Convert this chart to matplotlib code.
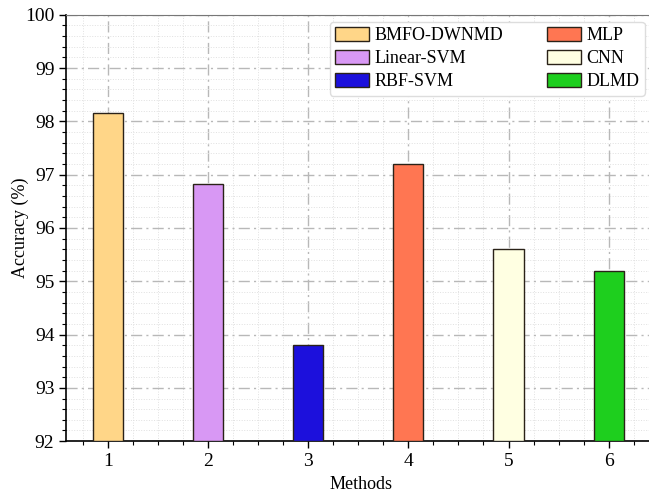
import matplotlib
matplotlib.use("Agg")
import matplotlib.pyplot as plt
from matplotlib.ticker import MultipleLocator

METHODS = ["BMFO-DWNMD", "Linear-SVM", "RBF-SVM", "MLP", "CNN", "DLMD"]
POSITIONS = [1, 2, 3, 4, 5, 6]
ACCURACY = [98.15, 96.83, 93.8, 97.2, 95.6, 95.2]
COLORS = ["#FFD688", "#D898F4", "#1C10DC", "#FF7652", "#FFFFE2", "#1ECF1E"]

plt.rcParams["font.family"] = ["Liberation Serif", "DejaVu Serif"]

fig = plt.figure(figsize=(6.49, 4.94), dpi=100)
ax = fig.add_axes([0.102, 0.107, 0.91, 0.863])

for pos, value, color, name in zip(POSITIONS, ACCURACY, COLORS, METHODS):
    ax.bar(pos, value - 92, bottom=92, width=0.3, color=color,
           edgecolor="#2a2218", linewidth=1.0, label=name, zorder=3)

ax.set_xlim(0.585, 6.48)
ax.set_ylim(92, 100)
ax.set_xticks(POSITIONS)
ax.xaxis.set_minor_locator(MultipleLocator(0.25))
ax.yaxis.set_major_locator(MultipleLocator(1))
ax.yaxis.set_minor_locator(MultipleLocator(0.2))

ax.grid(True, which="major", linestyle=(0, (8, 3, 1.5, 3)), color="#b8b8b8",
        linewidth=1.0, zorder=0)
ax.grid(True, which="minor", linestyle=":", color="#e0e0e0", linewidth=0.7, zorder=0)

ax.tick_params(which="major", direction="out", length=5, width=1.0, labelsize=14)
ax.tick_params(which="minor", direction="out", length=3, width=0.8)
ax.spines["top"].set_color("#777777")
ax.spines["left"].set_linewidth(1.2)
ax.spines["bottom"].set_linewidth(1.2)

ax.set_xlabel("Methods", fontsize=13, labelpad=4)
ax.set_ylabel("Accuracy (%)", fontsize=13, labelpad=-3)

ax.legend(ncol=2, loc="upper right", fontsize=13, frameon=True, framealpha=1,
          edgecolor="#dddddd", fancybox=True, handlelength=1.9, handleheight=0.8,
          handletextpad=0.3, columnspacing=2.4, labelspacing=0.32, borderpad=0.3,
          borderaxespad=0, bbox_to_anchor=(0.98, 0.984))

fig.savefig("out.png", dpi=100)
